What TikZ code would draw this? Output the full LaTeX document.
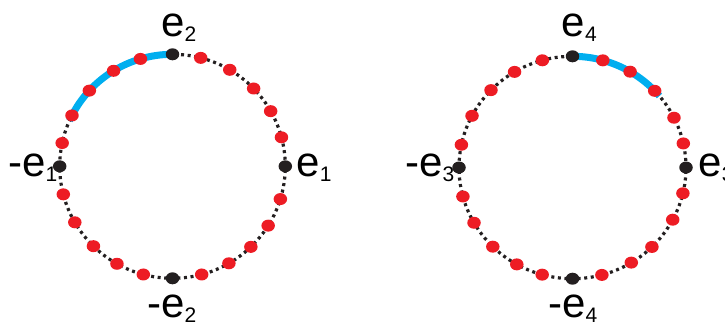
\documentclass[tikz,border=0pt]{standalone}
\usepackage{fontspec}
\setmainfont{Liberation Sans}
\usetikzlibrary{shapes.geometric}
\definecolor{dotred}{HTML}{ED1C24}
\definecolor{arcblue}{HTML}{00AEEF}
\definecolor{dotblack}{HTML}{231F20}
\newcommand\vlab[2]{#1\raisebox{-5bp}{\fontsize{21bp}{21bp}\selectfont #2}}
\begin{document}
\begin{tikzpicture}[x=1bp,y=1bp,
  ring/.style={line width=3.2bp, dash pattern=on 3bp off 3.6bp, dotblack},
  arcline/.style={line width=7bp, arcblue},
  reddot/.style={ellipse, fill=dotred, inner sep=0pt, minimum width=13.5bp, minimum height=12bp},
  blackdot/.style={ellipse, fill=dotblack, inner sep=0pt, minimum width=13.5bp, minimum height=12bp},
  lab/.style={anchor=base west, inner sep=0pt, font=\fontsize{42bp}{42bp}\selectfont}]
\useasboundingbox (0,0) rectangle (725,329);
% ---------- left circle ----------
\coordinate (LC) at (172.5,162.7);
\coordinate (LE) at (285.3,162.7);
\coordinate (LN) at (172.5,274.7);
\coordinate (LW) at (59.7,162.7);
\coordinate (LS) at (172.5,50.7);
\draw[ring] (LC) ellipse [x radius=112.8bp, y radius=112bp];
\draw[arcline] (LN) arc[start angle=90, end angle=156, x radius=112.8bp, y radius=112bp];
\foreach \a [count=\i] in {15,29.5,44,59.5,75.5,106.5,121.5,137.5,153,168,194.5,210,225.5,240.5,255,285,300,314,328,343}
  \node[reddot] (Lr\i) at ({172.5+112.8*cos(\a)},{162.7+112*sin(\a)}) {};
\node[blackdot] (LdE) at (LE) {};
\node[blackdot] (LdN) at (LN) {};
\node[blackdot] (LdW) at (LW) {};
\node[blackdot] (LdS) at (LS) {};
\node[lab] (Le2) at (161,293) {\vlab{e}{2}};
\node[lab] (Le1) at (296.3,152.7) {\vlab{e}{1}};
\node[lab] (Lme1) at (8,152.7) {\vlab{-e}{1}};
\node[lab] (Lme2) at (147,11.5) {\vlab{-e}{2}};
% ---------- right circle ----------
\coordinate (RC) at (572.5,161.5);
\coordinate (RE) at (686,161.5);
\coordinate (RN) at (572.5,272.7);
\coordinate (RW) at (459,161.5);
\coordinate (RS) at (572.5,50.3);
\draw[ring] (RC) ellipse [x radius=113.5bp, y radius=111.2bp];
\draw[arcline] (RN) arc[start angle=90, end angle=40, x radius=113.5bp, y radius=111.2bp];
\foreach \a [count=\i] in {12.5,26.6,43.6,59.5,74.5,105.4,120.7,135.9,152.3,168.2,195.1,209.8,225.4,240.6,254.5,285,301.2,314.4,332,346.6}
  \node[reddot] (Rr\i) at ({572.5+113.5*cos(\a)},{161.5+111.2*sin(\a)}) {};
\node[blackdot] (RdE) at (RE) {};
\node[blackdot] (RdN) at (RN) {};
\node[blackdot] (RdW) at (RW) {};
\node[blackdot] (RdS) at (RS) {};
\node[lab] (Re4) at (561.6,293) {\vlab{e}{4}};
\node[lab] (Re3) at (698.3,152.7) {\vlab{e}{3}};
\node[lab] (Rme3) at (405,152.7) {\vlab{-e}{3}};
\node[lab] (Rme4) at (548,11.5) {\vlab{-e}{4}};
\end{tikzpicture}
\end{document}
